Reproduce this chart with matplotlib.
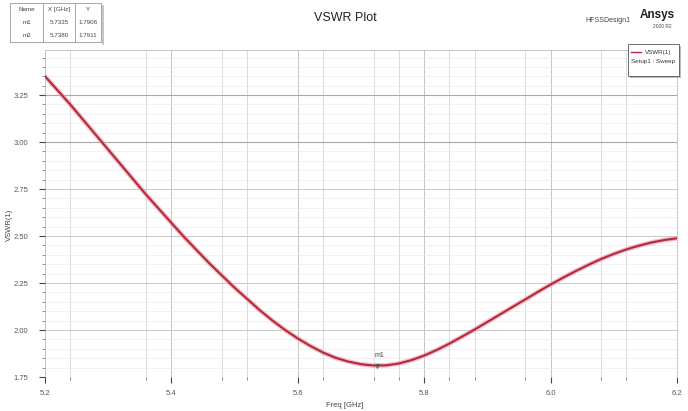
import matplotlib
matplotlib.use("Agg")
import matplotlib.pyplot as plt
from matplotlib.patches import Rectangle
from matplotlib.lines import Line2D
import numpy as np

plt.rcParams['font.family'] = ['Liberation Sans Narrow', 'Liberation Sans', 'DejaVu Sans']

# ---- data ----
freq_ghz = [5.20, 5.22, 5.24, 5.26, 5.28, 5.30, 5.32, 5.34, 5.36, 5.38,
            5.40, 5.42, 5.44, 5.46, 5.48, 5.50, 5.52, 5.54, 5.56, 5.58,
            5.60, 5.62, 5.64, 5.66, 5.68, 5.70, 5.72, 5.74, 5.76, 5.78,
            5.80, 5.82, 5.84, 5.86, 5.88, 5.90, 5.92, 5.94, 5.96, 5.98,
            6.00, 6.02, 6.04, 6.06, 6.08, 6.10, 6.12, 6.14, 6.16, 6.18, 6.20]
vswr = [3.350, 3.275, 3.200, 3.120, 3.040, 2.960, 2.880, 2.800, 2.720, 2.645,
        2.570, 2.495, 2.425, 2.355, 2.290, 2.225, 2.165, 2.105, 2.050, 2.000,
        1.955, 1.915, 1.880, 1.852, 1.832, 1.818, 1.811, 1.812, 1.822, 1.840,
        1.864, 1.894, 1.928, 1.965, 2.003, 2.043, 2.083, 2.123, 2.163, 2.203,
        2.242, 2.279, 2.314, 2.347, 2.378, 2.405, 2.429, 2.449, 2.466, 2.479, 2.488]
x_major = [5.2, 5.4, 5.6, 5.8, 6.0, 6.2]
x_minor = [5.24, 5.36, 5.48, 5.52, 5.64, 5.72, 5.76, 5.84, 5.88, 5.96, 6.08, 6.12]
y_major = [1.75, 2.00, 2.25, 2.50, 2.75, 3.00, 3.25]
marker_rows = [["Name", "X [GHz]", "Y"],
               ["m1", "5.7335", "1.7906"],
               ["m2", "5.7380", "1.7911"]]
m1_freq, m1_val = 5.725, 1.811

W, H = 688, 411
fig = plt.figure(figsize=(W / 100, H / 100), dpi=100)
fig.patch.set_facecolor('white')
ax = fig.add_axes([45 / W, 1 - 377 / H, (677 - 45) / W, (377 - 50) / H])
ax.set_xlim(5.2, 6.2)
ax.set_ylim(1.75, 3.49)

# grid
for xv in x_minor:
    ax.axvline(xv, color='#d4d4d4', lw=0.6, zorder=0)
for xv in x_major:
    ax.axvline(xv, color='#c4c4c4', lw=0.7, zorder=0)
yminor = np.arange(1.80, 3.49, 0.05)
for yv in yminor:
    ax.axhline(yv, color='#ececec', lw=0.5, zorder=0)
for yv in y_major:
    ax.axhline(yv, color='#c8c8c8', lw=0.7, zorder=0)
for yv in [3.00, 3.25]:
    ax.axhline(yv, color='#a8a8a8', lw=0.8, zorder=0)

# curve with soft halo
ax.plot(freq_ghz, vswr, color='#f2a3ad', lw=3.4, alpha=0.7, solid_capstyle='round', zorder=2)
ax.plot(freq_ghz, vswr, color='#b3283c', lw=1.5, zorder=3)

# marker
ax.plot([m1_freq], [m1_val], marker='v', ms=3, mfc='none', mec='#555555', mew=0.6, zorder=4)
ax.text(m1_freq + 0.004, m1_val + 0.035, "m1", fontsize=5, color='#444444', ha='center', va='bottom')

# ticks
ax.set_xticks(x_major)
ax.set_xticklabels([f"{v:.1f}" for v in x_major])
ax.set_xticks(x_minor, minor=True)
ax.set_yticks(y_major)
ax.set_yticklabels([f"{v:.2f}" for v in y_major])
ax.set_yticks(list(np.arange(1.80, 3.49, 0.05)), minor=True)
ax.tick_params(axis='both', which='major', labelsize=5.5, labelcolor='#555555',
               color='#444444', length=4, width=0.8, direction='out')
ax.tick_params(axis='x', which='major', pad=5)
ax.tick_params(axis='y', which='major', pad=8)
ax.tick_params(axis='both', which='minor', color='#777777', length=2, width=0.6)
for s in ['top', 'right']:
    ax.spines[s].set_color('#c8c8c8')
    ax.spines[s].set_linewidth(0.7)
for s in ['left', 'bottom']:
    ax.spines[s].set_visible(False)

ax.set_xlabel("Freq [GHz]", fontsize=5.5, color='#444444')
ax.xaxis.set_label_coords((345 - 45) / (677 - 45), -(402 - 377) / (377 - 50))
ax.set_ylabel("VSWR(1)", fontsize=5.5, color='#444444')
ax.yaxis.set_label_coords(-(45 - 13) / (677 - 45), (377 - 225) / (377 - 50))

# title and branding
fig.text(345 / W, 1 - 18 / H, "VSWR Plot", fontsize=9, color='#222222', ha='center', va='center')
fig.text(608 / W, 1 - 21 / H, "HFSSDesign1", fontsize=5, color='#444444', ha='center', va='center')
fig.text(657 / W, 1 - 15 / H, "Ansys", fontsize=8.5, fontweight='bold', color='#222222', ha='center', va='center')
fig.text(662 / W, 1 - 26 / H, "2020 R2", fontsize=3.5, color='#444444', ha='center', va='center')

# marker table (top-left)
col_x = [10, 43, 75, 101]
row_y = [3, 16, 29, 42]
tab_bg = Rectangle((col_x[0] / W, 1 - row_y[-1] / H), (col_x[-1] - col_x[0]) / W,
                   (row_y[-1] - row_y[0]) / H, transform=fig.transFigure,
                   facecolor='white', edgecolor='#999999', lw=0.6, zorder=5)
fig.add_artist(tab_bg)
for cx in col_x[1:-1]:
    fig.add_artist(Line2D([cx / W, cx / W], [1 - row_y[0] / H, 1 - row_y[-1] / H],
                          transform=fig.transFigure, color='#999999', lw=0.6, zorder=6))
fig.add_artist(Line2D([(col_x[-1] + 2) / W, (col_x[-1] + 2) / W], [1 - (row_y[0] + 3) / H, 1 - (row_y[-1] + 2) / H],
                      transform=fig.transFigure, color='#bbbbbb', lw=1.2, zorder=4))
for r, row in enumerate(marker_rows):
    for c, txt in enumerate(row):
        fig.text((col_x[c] + col_x[c + 1]) / 2 / W, 1 - (row_y[r] + row_y[r + 1]) / 2 / H, txt,
                 fontsize=4.5, color='#444444', ha='center', va='center', zorder=7)

# legend box
lx0, lx1, ly0, ly1 = 628, 679, 44, 76
fig.add_artist(Rectangle(((lx0 + 2) / W, 1 - (ly1 + 2) / H), (lx1 - lx0) / W, (ly1 - ly0) / H,
                         transform=fig.transFigure, facecolor='#bbbbbb', edgecolor='none', zorder=5))
fig.add_artist(Rectangle((lx0 / W, 1 - ly1 / H), (lx1 - lx0) / W, (ly1 - ly0) / H,
                         transform=fig.transFigure, facecolor='white', edgecolor='#555555', lw=0.6, zorder=6))
fig.add_artist(Line2D([(lx0 + 3) / W, (lx0 + 13) / W], [1 - 52 / H, 1 - 52 / H],
                      transform=fig.transFigure, color='#b3283c', lw=1.0, zorder=7))
fig.text((lx0 + 17) / W, 1 - 52 / H, "VSWR(1)", fontsize=4.5, color='#333333', va='center', zorder=7)
fig.text((lx0 + 3) / W, 1 - 61 / H, "Setup1 : Sweep", fontsize=4.5, color='#333333', va='center', zorder=7)

fig.savefig("out.png", dpi=100, facecolor='white')
